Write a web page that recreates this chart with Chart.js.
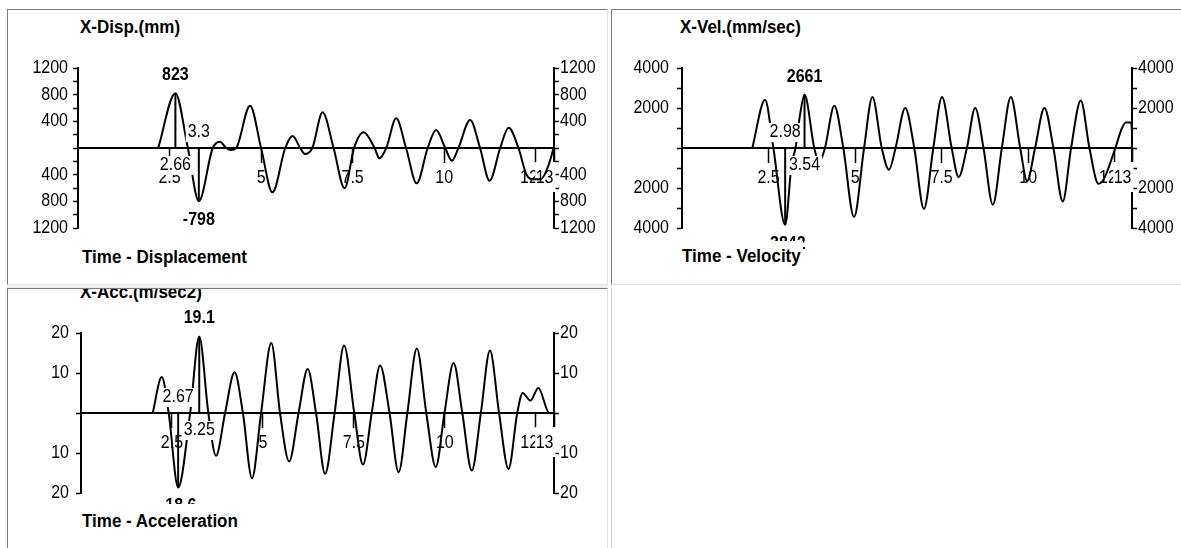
<!DOCTYPE html>
<html>
<head>
<meta charset="utf-8">
<script src="https://cdn.jsdelivr.net/npm/chart.js@4.4.0/dist/chart.umd.min.js"></script>
<style>
  html, body { margin: 0; padding: 0; background: #fff; }
  body { width: 1181px; height: 548px; position: relative; overflow: hidden; font-family: "Liberation Sans", Arial, sans-serif; }
  .panel { position: absolute; box-sizing: border-box; overflow: hidden; background: #fff;
           border-top: 1px solid #7c7c7c; border-left: 1px solid #7c7c7c;
           border-right: 1px solid #e3e3e3; border-bottom: 1px solid #e3e3e3; }
  .panel canvas { position: absolute; left: 0; top: 0; }
  .title { position: absolute; font-weight: bold; font-size: 17px; line-height: 20px; color: #000;
           background: #fff; white-space: nowrap; padding: 0 2px;
           transform: scaleY(1.1); transform-origin: 0 0; }
  .foot { padding-top: 4px; }
</style>
</head>
<body>
<div style="position:absolute;left:7px;top:284px;width:601px;height:4px;background:#eeeeee;"></div>
<div class="panel" style="left:7px;top:9px;width:601px;height:276px;">
  <canvas id="dispChart" width="599" height="274"></canvas>
  <div class="title" style="left:70px;top:5.5px;">X-Disp.(mm)</div>
  <div class="title foot" style="left:72px;top:231.5px;">Time - Displacement</div>
</div>
<div class="panel" style="left:611px;top:9px;width:574px;height:276px;">
  <canvas id="velChart" width="572" height="274"></canvas>
  <div class="title" style="left:66px;top:5.5px;">X-Vel.(mm/sec)</div>
  <div class="title foot" style="left:68px;top:230.5px;">Time - Velocity</div>
</div>
<div class="panel" style="left:7px;top:288px;width:601px;height:264px;">
  <canvas id="accChart" width="599" height="262"></canvas>
  <div class="title" style="left:70px;top:-8px;">X-Acc.(m/sec2)</div>
  <div class="title foot" style="left:72px;top:214.8px;padding-top:6px;">Time - Acceleration</div>
</div>
<div style="position:absolute;left:611px;top:288px;width:1px;height:260px;background:#d6d6d6;"></div>

<script>
// Time axis
const timeTicks = [2.5, 5, 7.5, 10, 12.5, 13];
const timeTickLabels = ['2.5', '5', '7.5', '10', '12.5', '13'];

// Displacement (mm)
const dispTime = [2.19, 2.66, 3.00, 3.30, 3.68, 3.88, 4.05, 4.18, 4.32, 4.70, 5.00, 5.31, 5.66, 5.86, 6.07, 6.20,
  6.40, 6.68, 6.98, 7.28, 7.54, 7.80, 8.10, 8.23, 8.42, 8.69, 8.96, 9.25, 9.55, 9.78, 10.03, 10.21, 10.39,
  10.71, 10.98, 11.24, 11.53, 11.76, 12.03, 12.25, 12.45, 12.65, 12.85, 12.99];
const dispValue = [0, 823, 0, -798, 0, 95, 0, -30, 0, 635, 0, -665, 0, 180, 0, -90,
  0, 535, 0, -605, 0, 235, 0, -155, 0, 445, 0, -530, 0, 270, 0, -190, 0,
  420, 0, -490, 0, 305, 0, -400, -470, -465, -260, 0];
const dispTicks = [-1200, -1000, -800, -600, -400, -200, 0, 200, 400, 600, 800, 1000, 1200];
const dispLabelled = [1200, 800, 400, -400, -800, -1200];
const dispPeakTime = [2.66, 3.3];
const dispPeakValue = [823, -798];
const dispPeakTimeText = ['2.66', '3.3'];
const dispPeakValueText = ['823', '-798'];

// Velocity (mm/sec)
const velTime = [2.03, 2.40, 2.64, 2.98, 3.17, 3.28, 3.41, 3.54, 3.82, 3.96, 4.13, 4.40, 4.66, 4.97, 5.26, 5.50,
  5.77, 5.98, 6.17, 6.45, 6.71, 6.99, 7.26, 7.51, 7.79, 7.99, 8.23, 8.47, 8.71, 8.98, 9.24, 9.50, 9.77,
  9.97, 10.20, 10.47, 10.73, 11.00, 11.24, 11.52, 11.77, 12.03, 12.15, 12.30, 12.40, 12.52, 12.70, 12.82,
  12.98, 13.00];
const velValue = [0, 2415, 0, -3842, -750, 0, 1660, 2661, 0, -720, 0, 2115, 0, -3450, 0, 2550,
  0, -1085, 0, 2000, 0, -3050, 0, 2550, 0, -1450, 0, 2000, 0, -2835, 0, 2550, 0,
  -1650, 0, 2000, 0, -2670, 0, 2380, 0, -1785, -1650, -1100, -600, 0, 950, 1280,
  1280, 760];
const velTicks = [-4000, -3000, -2000, -1000, 0, 1000, 2000, 3000, 4000];
const velLabelled = [4000, 2000, -2000, -4000];
const velPeakTime = [3.54, 2.98];
const velPeakValue = [2661, -3842];
const velPeakTimeText = ['3.54', '2.98'];
const velPeakValueText = ['2661', '-3842'];

// Acceleration (m/sec2)
const accTime = [1.97, 2.22, 2.41, 2.67, 3.00, 3.25, 3.50, 3.71, 3.96, 4.22, 4.45, 4.70, 4.95, 5.23, 5.47, 5.72,
  5.98, 6.23, 6.46, 6.71, 6.97, 7.23, 7.51, 7.75, 7.99, 8.22, 8.48, 8.73, 8.97, 9.23, 9.49, 9.75, 9.99,
  10.24, 10.48, 10.74, 10.99, 11.24, 11.49, 11.75, 11.99, 12.14, 12.35, 12.57, 12.87, 13.00];
const accValue = [0, 9, 0, -18.6, 0, 19.1, 0, -10.7, 0, 10.2, 0, -16.3, 0, 17.5, 0, -12.1,
  0, 11, 0, -15.2, 0, 16.9, 0, -12.9, 0, 11.9, 0, -14.8, 0, 16.1, 0, -13.5, 0,
  12.5, 0, -14.4, 0, 15.6, 0, -14, 0, 5.0, 3.1, 6.25, 0, 0];
const accTicks = [-20, -10, 0, 10, 20];
const accLabelled = [20, 10, -10, -20];
const accPeakTime = [3.25, 2.67];
const accPeakValue = [19.1, -18.6];
const accPeakTimeText = ['3.25', '2.67'];
const accPeakValueText = ['19.1', '-18.6'];

const FONT = '"Liberation Sans", Arial, sans-serif';
const TEXT_STRETCH = 1.1; // the old screen font is a little taller than it is wide

// text centred on y, stretched a bit vertically
function putText(ctx, txt, x, y, font, align) {
  ctx.save();
  ctx.translate(x, y);
  ctx.scale(1, TEXT_STRETCH);
  ctx.font = font;
  ctx.textAlign = align;
  ctx.textBaseline = 'middle';
  ctx.fillStyle = '#000';
  ctx.fillText(txt, 0, 0);
  ctx.restore();
}

// axis numbers: value axes on both sides, time under the zero line
const axisText = {
  id: 'axisText',
  beforeDatasetsDraw(chart, args, opts) {
    const ctx = chart.ctx;
    const xs = chart.scales.x, yl = chart.scales.y, yr = chart.scales.y2;
    const font = '16px ' + FONT;

    opts.labelled.forEach((v) => {
      const txt = String(Math.abs(v));
      putText(ctx, txt, yl.right - 5 - opts.leftPad, yl.getPixelForValue(v), font, 'right');
      putText(ctx, txt, yr.left + 5 + 1, yr.getPixelForValue(v), font, 'left');
    });

    const ly = yl.getPixelForValue(0) + 30;
    ctx.font = font;
    timeTicks.forEach((v, i) => {
      const px = xs.getPixelForValue(v);
      const txt = timeTickLabels[i];
      if (i === timeTicks.length - 1) {
        // end time goes left of the last tick, on an opaque box
        const w = ctx.measureText(txt).width;
        ctx.fillStyle = '#fff';
        ctx.fillRect(px - w - 1, ly - 16, w + 2.5, 30);
        putText(ctx, txt, px - 0.5, ly, font, 'right');
      } else {
        putText(ctx, txt, px, ly, font, 'center');
      }
    });
  }
};

// max / min markers: drop line, time of the peak and its value
const peakMarks = {
  id: 'peakMarks',
  afterDatasetsDraw(chart, args, opts) {
    const ctx = chart.ctx;
    const xs = chart.scales.x, ys = chart.scales.y;
    const y0 = ys.getPixelForValue(0);
    opts.times.forEach((t, i) => {
      const v = opts.values[i];
      const px = xs.getPixelForValue(t);
      const py = ys.getPixelForValue(v);
      const up = v > 0;
      ctx.save();
      ctx.font = '16px ' + FONT;
      const tw = ctx.measureText(opts.timeText[i]).width;
      const ty = up ? y0 + 17 : y0 - 16;
      ctx.fillStyle = '#fff';
      ctx.fillRect(px - tw / 2 - 2, ty - 9, tw + 4, 19);
      putText(ctx, opts.timeText[i], px, ty, '16px ' + FONT, 'center');

      ctx.strokeStyle = '#000';
      ctx.lineWidth = 2;
      ctx.beginPath();
      ctx.moveTo(px, y0);
      ctx.lineTo(px, py);
      ctx.stroke();
      ctx.restore();

      putText(ctx, opts.valueText[i], px, up ? py - 18 : py + 19, 'bold 16px ' + FONT, 'center');
    });
  }
};

function valueAxis(side, max, ticks, width) {
  return {
    type: 'linear',
    position: side,
    min: -max,
    max: max,
    afterBuildTicks: (s) => { s.ticks = ticks.map(v => ({ value: v })); },
    afterFit: (s) => { s.width = width; },
    grid: { drawOnChartArea: false, tickLength: 5, tickWidth: 1.5, tickColor: '#000' },
    border: { display: true, color: '#000', width: 2 },
    ticks: { display: false, autoSkip: false }
  };
}

function makeChart(id, c) {
  return new Chart(document.getElementById(id), {
    type: 'line',
    data: {
      datasets: [{
        data: c.time.map((t, i) => ({ x: t, y: c.value[i] })),
        borderColor: '#000',
        borderWidth: 2,
        pointRadius: 0,
        fill: false,
        cubicInterpolationMode: 'monotone'
      }]
    },
    options: {
      responsive: false,
      animation: false,
      events: [],
      layout: { padding: { left: 0, right: 0, top: c.top, bottom: c.bottom } },
      scales: {
        x: {
          type: 'linear',
          min: 0,
          max: 13,
          position: { y: 0 },
          afterBuildTicks: (s) => { s.ticks = timeTicks.map(v => ({ value: v })); },
          ticks: { display: false },
          grid: { drawOnChartArea: false, tickLength: 14, tickWidth: 1.5, tickColor: '#000' },
          border: { display: true, color: '#000', width: 2 }
        },
        y: valueAxis('left', c.max, c.ticks, c.leftW),
        y2: valueAxis('right', c.max, c.ticks, c.rightW)
      },
      plugins: {
        legend: { display: false },
        tooltip: { enabled: false },
        axisText: { labelled: c.labelled, leftPad: c.leftPad },
        peakMarks: { times: c.peakTime, values: c.peakValue, timeText: c.peakTimeText, valueText: c.peakValueText }
      }
    },
    plugins: [axisText, peakMarks]
  });
}

const dispChart = makeChart('dispChart', {
  time: dispTime, value: dispValue, max: 1200, ticks: dispTicks, labelled: dispLabelled,
  top: 58, bottom: 56, leftW: 70, rightW: 53, leftPad: 5,
  peakTime: dispPeakTime, peakValue: dispPeakValue, peakTimeText: dispPeakTimeText, peakValueText: dispPeakValueText
});

const velChart = makeChart('velChart', {
  time: velTime, value: velValue, max: 4000, ticks: velTicks, labelled: velLabelled,
  top: 58, bottom: 56, leftW: 70, rightW: 52, leftPad: 8,
  peakTime: velPeakTime, peakValue: velPeakValue, peakTimeText: velPeakTimeText, peakValueText: velPeakValueText
});

const accChart = makeChart('accChart', {
  time: accTime, value: accValue, max: 20, ticks: accTicks, labelled: accLabelled,
  top: 44, bottom: 58, leftW: 73, rightW: 53, leftPad: 7,
  peakTime: accPeakTime, peakValue: accPeakValue, peakTimeText: accPeakTimeText, peakValueText: accPeakValueText
});
</script>
</body>
</html>
